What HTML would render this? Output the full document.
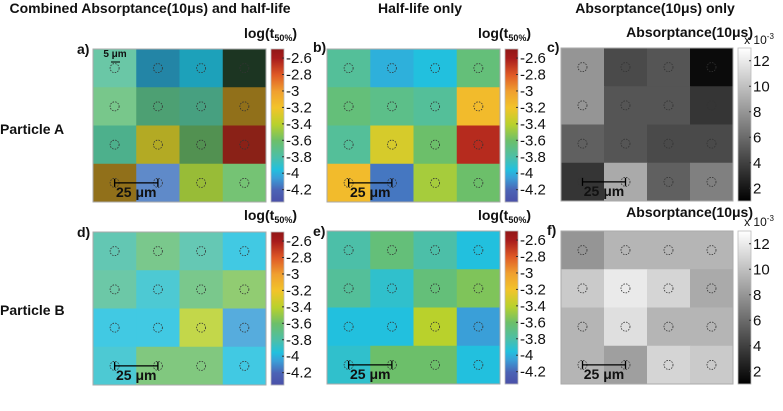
<!DOCTYPE html>
<html><head><meta charset="utf-8"><style>
body{margin:0;background:#fff;width:783px;height:406px;overflow:hidden}
svg{font-family:"Liberation Sans",sans-serif}
</style></head><body>
<svg id="s" width="783" height="406" xmlns="http://www.w3.org/2000/svg"></svg>
<script>
const halfA=[[-3.75,-4.0,-3.95,-3.65],[-3.65,-3.7,-3.75,-3.15],[-3.75,-3.3,-3.6,-2.65],[-3.15,-4.15,-3.45,-3.6]];
const absA=[[8,4.5,5,1.5],[8,5,5,3.5],[5.5,5,4.5,4.5],[3.5,9,5.5,7]];
const halfB=[[-3.8,-3.65,-3.8,-3.95],[-3.75,-3.9,-3.65,-3.55],[-3.95,-3.95,-3.4,-4.05],[-3.9,-3.6,-3.6,-3.95]];
const absB=[[8,9.5,9.5,9.5],[10.5,12,11,9],[9.5,11.5,9.5,9.5],[9.5,8.5,11,10.5]];
const logTicks=[-2.6,-2.8,-3,-3.2,-3.4,-3.6,-3.8,-4,-4.2];
const absTicks=[12,10,8,6,4,2];
const NS="http://www.w3.org/2000/svg",S=document.getElementById('s');
function el(t,a,p){const e=document.createElementNS(NS,t);for(const k in a)e.setAttribute(k,a[k]);(p||S).appendChild(e);return e;}
function txt(x,y,s,o,p){const e=el('text',Object.assign({x:x,y:y,'font-size':13,fill:'#111'},o||{}),p);e.textContent=s;return e;}
const stops=[[-4.35,[74,79,168]],[-4.2,[75,99,181]],[-4.05,[58,159,216]],[-3.95,[34,192,222]],[-3.8,[76,191,168]],[-3.6,[108,191,106]],[-3.4,[185,209,44]],[-3.2,[242,196,42]],[-3.0,[240,160,48]],[-2.8,[224,90,38]],[-2.6,[168,28,28]],[-2.45,[138,21,21]]];
function cmap(v){if(v<=stops[0][0])return stops[0][1];for(let i=1;i<stops.length;i++){if(v<=stops[i][0]){const a=stops[i-1],b=stops[i],t=(v-a[0])/(b[0]-a[0]);return a[1].map((c,j)=>c+(b[1][j]-c)*t);}}return stops[stops.length-1][1];}
function rgb(c){return 'rgb('+c.map(x=>Math.round(Math.max(0,Math.min(255,x)))).join(',')+')';}
function gray(v){const g=Math.max(0,Math.min(1,(v-1)/12))*255;return [g,g,g];}
const lmin=-4.35,lmax=-2.49,amin=1,amax=13;
function heat(name,x0,y0,w,h,colorFn,bar){
  const g=el('g',{},S);
  const cw=w/4,ch=h/4;
  for(let r=0;r<4;r++)for(let c=0;c<4;c++){
    const cell=el('rect',{x:x0+c*cw,y:y0+r*ch,width:cw+0.5,height:ch+0.5,fill:rgb(colorFn(r,c))},g);
    
    
    const ci=el('circle',{cx:x0+(c+0.5)*cw,cy:y0+(r+0.5)*ch,r:4.5,fill:'none',stroke:'#333','stroke-width':0.8,'stroke-dasharray':'1.5 1.2'},g);
    
    
  }
  el('rect',{x:x0,y:y0,width:w,height:h,fill:'none',stroke:'#aaa','stroke-width':1},g);
  const sy=y0+3.5*ch,sx1=x0+0.5*cw,sx2=x0+1.5*cw;
  const sb=el('g',{},g);
  el('line',{x1:sx1,y1:sy,x2:sx2,y2:sy,stroke:'#000','stroke-width':1.3},sb);
  el('line',{x1:sx1,y1:sy-4,x2:sx1,y2:sy+4,stroke:'#000','stroke-width':1.3},sb);
  el('line',{x1:sx2,y1:sy-4,x2:sx2,y2:sy+4,stroke:'#000','stroke-width':1.3},sb);
  txt((sx1+sx2)/2,sy+14,'25 μm',{'text-anchor':'middle','font-weight':'bold','font-size':14},sb);
  const bx=x0+w+5,bw=13;
  const cb=el('g',{},S);
  for(let i=0;i<h;i++){const v=bar.max-(bar.max-bar.min)*i/h;el('rect',{x:bx,y:y0+i,width:bw,height:1.2,fill:rgb(bar.fn(v))},cb);}
  el('rect',{x:bx,y:y0,width:bw,height:h,fill:'none',stroke:'#bbb','stroke-width':0.8},cb);
  bar.ticks.forEach(t=>{const yy=y0+(bar.max-t)/(bar.max-bar.min)*h;
    el('line',{x1:bx+bw-2,y1:yy,x2:bx+bw,y2:yy,stroke:'#333'},cb);
    txt(bx+bw+2,yy+5,String(t),{'font-size':15},cb);});
}
const logBar={min:lmin,max:lmax,fn:cmap,ticks:logTicks};
const absBar={min:amin,max:amax,fn:gray,ticks:absTicks};
function comb(H,A){return (r,c)=>{const col=cmap(H[r][c]);const f=Math.min(1.35,0.2+0.16*(A[r][c]-1));return col.map(x=>f>1?x+(255-x)*(f-1)*0.4:x*f);};}
heat('panel-a-heatmap',93,49,173,153,comb(halfA,absA),logBar);
heat('panel-b-heatmap',327,49,173,153,(r,c)=>cmap(halfA[r][c]),logBar);
heat('panel-c-heatmap',561,48,172,153,(r,c)=>gray(absA[r][c]),absBar);
heat('panel-d-heatmap',93,232,173,153,comb(halfB,absB),logBar);
heat('panel-e-heatmap',327,231,173,153,(r,c)=>cmap(halfB[r][c]),logBar);
heat('panel-f-heatmap',561,231,172,153,(r,c)=>gray(absB[r][c]),absBar);
const B={'font-weight':'bold','font-size':14};
[['title-combined',150,13,'Combined Absorptance(10μs) and half-life','middle'],['title-half-life',420,13,'Half-life only','middle'],['title-absorptance',655,13,'Absorptance(10μs) only','middle'],
 ['row-label-particle-a',0,134,'Particle A','start'],['row-label-particle-b',0,315,'Particle B','start'],
 ['panel-label-a',77,54,'a)','start'],['panel-label-b',313,52,'b)','start'],['panel-label-c',547,52,'c)','start'],
 ['panel-label-d',77,237,'d)','start'],['panel-label-e',313,236,'e)','start'],['panel-label-f',547,235,'f)','start'],
 ['colorbar-title-c',753,37,'Absorptance(10μs)','end'],['colorbar-title-f',753,217,'Absorptance(10μs)','end']
].forEach(d=>{const e=txt(d[1],d[2],d[3],Object.assign({'text-anchor':d[4]},B));});
[[297,38],[531,38],[297,220],[531,220]].forEach(p=>{const e=txt(p[0],p[1],'',Object.assign({'text-anchor':'end'},B));
  e.innerHTML='log(t<tspan font-size="9" dy="3">50%</tspan><tspan dy="-3">)</tspan>';
  });
[[759,44],[759,226]].forEach(p=>{const e=txt(p[0],p[1],'',{'font-size':12,'text-anchor':'middle'});e.innerHTML='x 10<tspan font-size="8" dy="-5">-3</tspan>';
  });
const f=txt(115,57,'5 μm',{'text-anchor':'middle','font-weight':'bold','font-size':10});
el('line',{x1:111,y1:62,x2:120,y2:62,stroke:'#000','stroke-width':1});
</script>
</body></html>
